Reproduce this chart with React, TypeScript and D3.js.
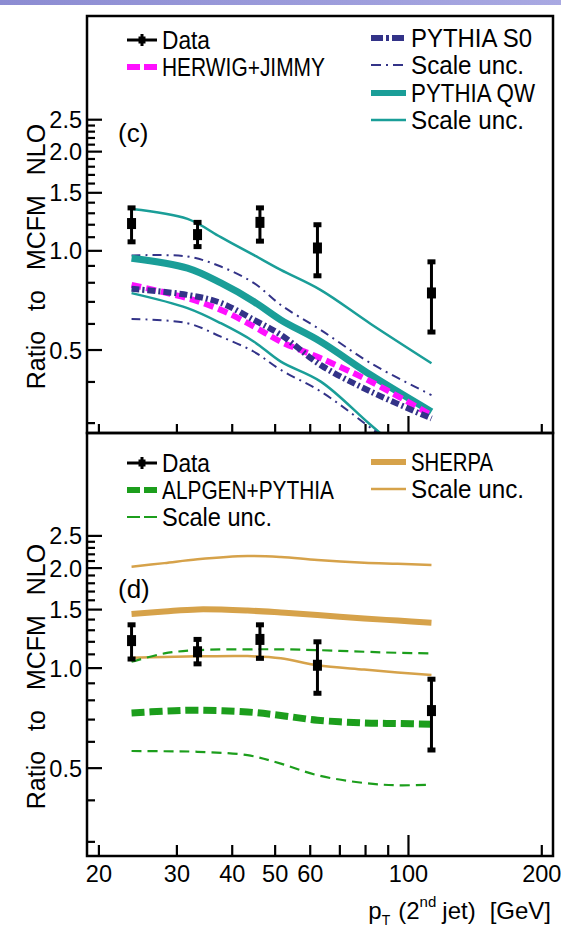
import React from "react";
import * as d3 from "d3";

const W = 561;
const H = 935;

// data points (same in both panels)
const ptData = [23.7, 33.4, 46.2, 62.3, 112.7];
const dataVal = [1.21, 1.12, 1.22, 1.02, 0.745];
const dataHi = [1.35, 1.22, 1.35, 1.2, 0.926];
const dataLo = [1.065, 1.03, 1.07, 0.84, 0.567];

// panel (c) curves
const ptTop = [23.7, 31.7, 37.7, 44.8, 51.5, 63.4, 82.2, 112.7];
const qwUp = [1.34, 1.25, 1.1, 0.97, 0.875, 0.76, 0.6, 0.456];
const qwCen = [0.95, 0.886, 0.799, 0.701, 0.617, 0.53, 0.42, 0.325];
const qwLo = [0.744, 0.67, 0.603, 0.53, 0.461, 0.401, 0.296, 0.206];
const s0Up = [0.968, 0.961, 0.896, 0.798, 0.685, 0.575, 0.456, 0.365];
const s0Cen = [0.767, 0.735, 0.695, 0.617, 0.556, 0.45, 0.374, 0.31];
const s0Lo = [0.621, 0.603, 0.549, 0.494, 0.435, 0.374, 0.29, 0.208];
const herwig = [0.788, 0.718, 0.662, 0.589, 0.53, 0.472, 0.401, 0.317];

// panel (d) curves
const ptBot = [23.7, 28.1, 33.4, 43.3, 51.5, 62.3, 79.4, 94.5, 112.7];
const sherpaUp = [2.019, 2.07, 2.126, 2.175, 2.16, 2.115, 2.076, 2.06, 2.043];
const sherpaCen = [1.454, 1.48, 1.502, 1.49, 1.47, 1.444, 1.411, 1.39, 1.369];
const sherpaLo = [1.075, 1.08, 1.085, 1.087, 1.07, 1.02, 0.99, 0.97, 0.953];
const alpUp = [1.045, 1.107, 1.133, 1.139, 1.139, 1.133, 1.12, 1.112, 1.107];
const alpCen = [0.733, 0.742, 0.747, 0.738, 0.72, 0.697, 0.684, 0.681, 0.678];
const alpLo = [0.563, 0.562, 0.56, 0.547, 0.516, 0.476, 0.451, 0.444, 0.446];

// axis ticks
const xTicks = [20, 30, 40, 50, 60, 70, 80, 90, 100, 200];
const xLabels = [20, 30, 40, 50, 60, 100, 200];
const yTicks = [0.3, 0.4, 0.5, 0.6, 0.7, 0.8, 0.9, 1.0, 1.1, 1.2, 1.3, 1.4, 1.5, 1.6, 1.7, 1.8, 1.9, 2.0, 2.1, 2.2, 2.3, 2.4, 2.5];
const yLabels = [0.5, 1.0, 1.5, 2.0, 2.5];

const TEAL = "#1a9e98";
const NAVY = "#333388";
const MAGENTA = "#ff10ff";
const TAN = "#d6a24a";
const GREEN = "#1c9e1c";
const FONT = "'Liberation Sans', Arial, sans-serif";

const left = 87;
const right = 553;
const x = d3.scaleLog().domain([18.8, 212]).range([left, right]);

const DataPoints = ({ y }) => (
  <g>
    {ptData.map((p, i) => {
      const cx = x(p);
      return (
        <g key={i}>
          <line x1={cx} x2={cx} y1={y(dataHi[i])} y2={y(dataLo[i])} stroke="black" strokeWidth={3} />
          <rect x={cx - 4} y={y(dataHi[i]) - 2.5} width={8} height={5} fill="black" />
          <rect x={cx - 4} y={y(dataLo[i]) - 2.5} width={8} height={5} fill="black" />
          <rect x={cx - 4.5} y={y(dataVal[i]) - 5.5} width={9} height={11} fill="black" />
        </g>
      );
    })}
  </g>
);

// legend entries are narrower than Liberation Sans in the original, so fit each to its width
const LegendText = ({ tx, ty, len, children }) => (
  <text x={tx} y={ty + 9} fontSize={25} fontFamily={FONT} fill="black" textLength={len} lengthAdjust="spacingAndGlyphs">
    {children}
  </text>
);

const DataSymbol = ({ cy }) => (
  <g>
    <line x1={127} x2={157} y1={cy} y2={cy} stroke="black" strokeWidth={3} />
    <line x1={142} x2={142} y1={cy - 6} y2={cy + 6} stroke="black" strokeWidth={3} />
    <rect x={138.5} y={cy - 3.5} width={7} height={7} fill="black" />
  </g>
);

const Panel = ({ id, top, bottom, yDomain, tickMaj, tickMin, children }) => {
  const y = d3.scaleLog().domain(yDomain).range([bottom, top]);
  const line = d3
    .line<[number, number]>()
    .x((d) => x(d[0]))
    .y((d) => y(d[1]))
    .curve(d3.curveCatmullRom);
  return (
    <g>
      <defs>
        <clipPath id={`clip-${id}`}>
          <rect x={left} y={top} width={right - left} height={bottom - top} />
        </clipPath>
      </defs>
      <g clipPath={`url(#clip-${id})`}>{children(y, line)}</g>
      <DataPoints y={y} />
      {yTicks.map((t) => {
        const major = yLabels.some((l) => Math.abs(l - t) < 1e-6);
        return (
          <line key={t} x1={left} x2={left + (major ? 15 : 8)} y1={y(t)} y2={y(t)} stroke="black" strokeWidth={2.2} />
        );
      })}
      {yLabels.map((t) => (
        <text key={t} x={82} y={y(t) + 8.5} textAnchor="end" fontSize={23.5} fontFamily={FONT}>
          {t.toFixed(1)}
        </text>
      ))}
      {xTicks.map((t) => (
        <line key={t} x1={x(t)} x2={x(t)} y1={bottom} y2={bottom - (t === 100 ? tickMaj : tickMin)} stroke="black" strokeWidth={2.2} />
      ))}
      <rect x={left} y={top} width={right - left} height={bottom - top} fill="none" stroke="black" strokeWidth={2.5} />
      <text
        transform={`translate(45,${(top + bottom) / 2 + 32}) rotate(-90)`}
        textAnchor="middle"
        fontSize={25}
        fontFamily={FONT}
        wordSpacing={13}
      >
        Ratio to MCFM NLO
      </text>
    </g>
  );
};

const zip = (xs: number[], ys: number[]) => xs.map((v, i) => [v, ys[i]] as [number, number]);

export default function App() {
  return (
    <svg width={W} height={H} style={{ position: "absolute", left: 0, top: 0, background: "white" }}>
      <defs>
        <linearGradient id="band" x1="0" x2="1" y1="0" y2="0">
          <stop offset="0" stopColor="#8c8cd2" />
          <stop offset="1" stopColor="#a9a9e2" />
        </linearGradient>
      </defs>
      <rect x={0} y={0} width={W} height={5} fill="url(#band)" />

      <Panel id="c" top={16} bottom={433} yDomain={[0.28, 5.16]} tickMaj={17} tickMin={9}>
        {(y, line) => (
          <g fill="none">
            <path d={line(zip(ptTop, qwUp))} stroke={TEAL} strokeWidth={2.5} />
            <path d={line(zip(ptTop, qwLo))} stroke={TEAL} strokeWidth={2.5} />
            <path d={line(zip(ptTop, s0Up))} stroke={NAVY} strokeWidth={2} strokeDasharray="9 5 2 5" />
            <path d={line(zip(ptTop, s0Lo))} stroke={NAVY} strokeWidth={2} strokeDasharray="9 5 2 5" />
            <path d={line(zip(ptTop, qwCen))} stroke={TEAL} strokeWidth={7} />
            <path d={line(zip(ptTop, herwig))} stroke={MAGENTA} strokeWidth={6} strokeDasharray="10 5" />
            <path d={line(zip(ptTop, s0Cen))} stroke={NAVY} strokeWidth={6} strokeDasharray="8 3 2 3" />
          </g>
        )}
      </Panel>

      <Panel id="d" top={433} bottom={856} yDomain={[0.272, 5.1]} tickMaj={21} tickMin={11}>
        {(y, line) => (
          <g fill="none">
            <path d={line(zip(ptBot, sherpaUp))} stroke={TAN} strokeWidth={2.5} />
            <path d={line(zip(ptBot, sherpaLo))} stroke={TAN} strokeWidth={2.5} />
            <path d={line(zip(ptBot, sherpaCen))} stroke={TAN} strokeWidth={6} />
            <path d={line(zip(ptBot, alpUp))} stroke={GREEN} strokeWidth={2.2} strokeDasharray="10 6" />
            <path d={line(zip(ptBot, alpLo))} stroke={GREEN} strokeWidth={2.2} strokeDasharray="10 6" />
            <path d={line(zip(ptBot, alpCen))} stroke={GREEN} strokeWidth={7} strokeDasharray="13 5" />
          </g>
        )}
      </Panel>

      {/* legend (c) */}
      <DataSymbol cy={40} />
      <LegendText tx={162} ty={40} len={48}>Data</LegendText>
      <line x1={127} x2={157} y1={67} y2={67} stroke={MAGENTA} strokeWidth={6} strokeDasharray="13 4" />
      <LegendText tx={162} ty={67} len={163}>HERWIG+JIMMY</LegendText>

      <line x1={371} x2={406} y1={38} y2={38} stroke={NAVY} strokeWidth={6} strokeDasharray="12 3 3 3" />
      <LegendText tx={411} ty={38} len={121}>PYTHIA S0</LegendText>
      <line x1={371} x2={406} y1={65} y2={65} stroke={NAVY} strokeWidth={2} strokeDasharray="10 5 2 5" />
      <LegendText tx={411} ty={65} len={113}>Scale unc.</LegendText>
      <line x1={371} x2={406} y1={93} y2={93} stroke={TEAL} strokeWidth={6} />
      <LegendText tx={411} ty={93} len={124}>PYTHIA QW</LegendText>
      <line x1={371} x2={406} y1={120} y2={120} stroke={TEAL} strokeWidth={2.5} />
      <LegendText tx={411} ty={120} len={113}>Scale unc.</LegendText>
      <text x={118} y={142} fontSize={26} fontFamily={FONT}>(c)</text>

      {/* legend (d) */}
      <DataSymbol cy={463} />
      <LegendText tx={162} ty={463} len={48}>Data</LegendText>
      <line x1={127} x2={157} y1={490} y2={490} stroke={GREEN} strokeWidth={6} strokeDasharray="13 4" />
      <LegendText tx={162} ty={490} len={172}>ALPGEN+PYTHIA</LegendText>
      <line x1={127} x2={157} y1={517} y2={517} stroke={GREEN} strokeWidth={2.2} strokeDasharray="13 4" />
      <LegendText tx={162} ty={517} len={110}>Scale unc.</LegendText>
      <line x1={371} x2={406} y1={462} y2={462} stroke={TAN} strokeWidth={6} />
      <LegendText tx={411} ty={462} len={82}>SHERPA</LegendText>
      <line x1={371} x2={406} y1={489} y2={489} stroke={TAN} strokeWidth={2.5} />
      <LegendText tx={411} ty={489} len={113}>Scale unc.</LegendText>
      <text x={118} y={598} fontSize={26} fontFamily={FONT}>(d)</text>

      {/* x axis labels */}
      {xLabels.map((t) => (
        <text key={t} x={x(t)} y={882} textAnchor="middle" fontSize={23.5} fontFamily={FONT}>
          {t}
        </text>
      ))}
      <text x={551} y={919} textAnchor="end" fontSize={24} fontFamily={FONT}>
        p<tspan fontSize={14} dy={6}>T</tspan>
        <tspan dy={-6} dx={8}>(2</tspan>
        <tspan fontSize={15} dy={-12}>nd</tspan>
        <tspan dy={12} dx={6}>jet)</tspan>
        <tspan dx={14}>[GeV]</tspan>
      </text>
    </svg>
  );
}
